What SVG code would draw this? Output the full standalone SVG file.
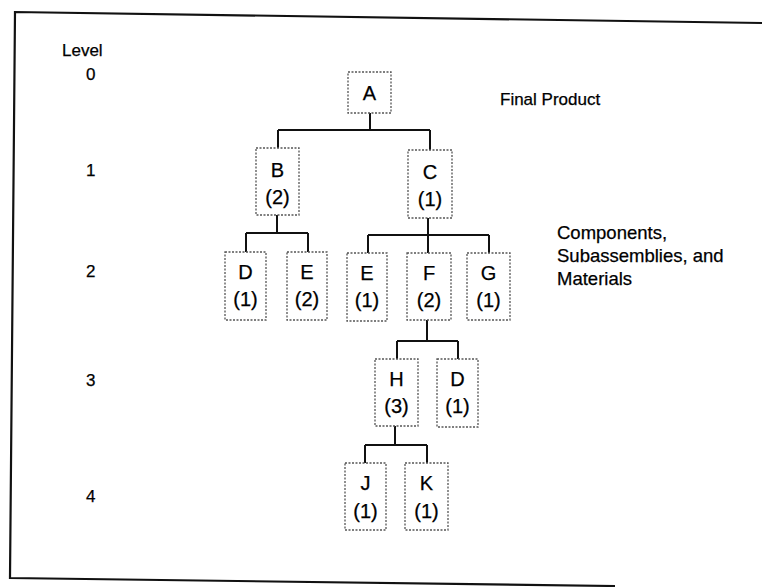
<svg xmlns="http://www.w3.org/2000/svg" width="762" height="587" viewBox="0 0 762 587">
<style>
text{font-family:"Liberation Sans",Arial,sans-serif;fill:#000;stroke:#000;stroke-width:0.25}
.lbl{font-size:17px}
.nt{font-size:20px;text-anchor:middle}
.box{fill:#fff;stroke:#555;stroke-width:1.3;stroke-dasharray:2 1.5}
.con{stroke:#111;stroke-width:2;fill:none}
.frame{stroke:#111;stroke-width:2.2;fill:none}
</style>
<path class="frame" d="M762,23 L15,12 L10,578 L615,586"/>
<g id="levels">
<text class="lbl" x="62" y="56">Level</text>
<text class="lbl" x="86" y="80">0</text>
<text class="lbl" x="86" y="176">1</text>
<text class="lbl" x="86" y="277">2</text>
<text class="lbl" x="86" y="386">3</text>
<text class="lbl" x="86" y="502">4</text>
</g>
<g id="notes">
<text class="lbl" x="500" y="105">Final Product</text>
<text class="lbl" x="557" y="239" style="font-size:18.5px">Components,</text>
<text class="lbl" x="557" y="262" style="font-size:18.5px">Subassemblies, and</text>
<text class="lbl" x="557" y="285" style="font-size:18.5px">Materials</text>
</g>
<g id="connectors">
<path class="con" d="M370,113V130M278,130H430M278,130V148M430,130V150"/>
<path class="con" d="M277,215V233M246,233H308M246,233V252M308,233V252"/>
<path class="con" d="M428,218V235M368,235H489M368,235V253M428,235V253M489,235V253"/>
<path class="con" d="M427,320V341M397,341H458M397,341V359M458,341V359"/>
<path class="con" d="M395,426V445M365,445H427M365,445V463M427,445V463"/>
</g>
<g id="A"><rect class="box" x="348" y="72" width="43" height="41"/><text class="nt" x="369.5" y="100">A</text></g>
<g id="B"><rect class="box" x="256" y="148" width="43" height="67"/><text class="nt" x="277.5" y="177">B</text><text class="nt" x="277.5" y="204">(2)</text></g>
<g id="C"><rect class="box" x="408" y="150" width="44" height="68"/><text class="nt" x="430" y="179">C</text><text class="nt" x="430" y="206">(1)</text></g>
<g id="D1"><rect class="box" x="225" y="252" width="41" height="68"/><text class="nt" x="245.5" y="279">D</text><text class="nt" x="245.5" y="306">(1)</text></g>
<g id="E2"><rect class="box" x="287" y="252" width="40" height="68"/><text class="nt" x="307" y="279">E</text><text class="nt" x="307" y="306">(2)</text></g>
<g id="E1"><rect class="box" x="347" y="253" width="40" height="68"/><text class="nt" x="367" y="280">E</text><text class="nt" x="367" y="307">(1)</text></g>
<g id="F"><rect class="box" x="407" y="253" width="44" height="67"/><text class="nt" x="429" y="280">F</text><text class="nt" x="429" y="307">(2)</text></g>
<g id="G"><rect class="box" x="467" y="253" width="43" height="67"/><text class="nt" x="488.5" y="280">G</text><text class="nt" x="488.5" y="307">(1)</text></g>
<g id="H"><rect class="box" x="375" y="359" width="43" height="67"/><text class="nt" x="396.5" y="386">H</text><text class="nt" x="396.5" y="413">(3)</text></g>
<g id="D2"><rect class="box" x="437" y="359" width="41" height="68"/><text class="nt" x="457.5" y="386">D</text><text class="nt" x="457.5" y="413">(1)</text></g>
<g id="J"><rect class="box" x="345" y="463" width="41" height="67"/><text class="nt" x="365.5" y="490">J</text><text class="nt" x="365.5" y="518">(1)</text></g>
<g id="K"><rect class="box" x="405" y="463" width="43" height="67"/><text class="nt" x="426.5" y="490">K</text><text class="nt" x="426.5" y="518">(1)</text></g>
</svg>
